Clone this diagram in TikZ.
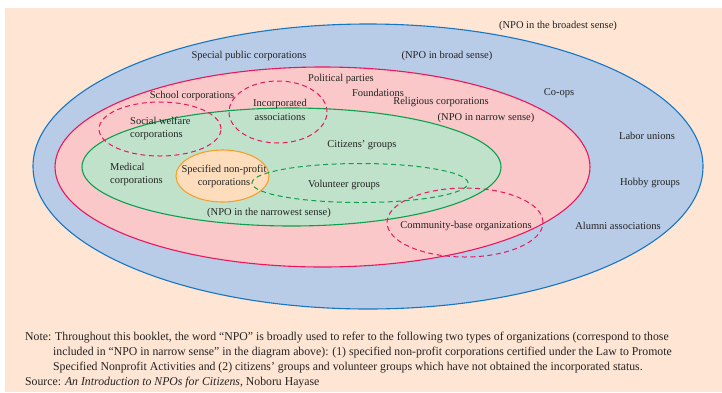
\documentclass[tikz,border=0pt]{standalone}
\usepackage{fontspec}
\setmainfont{Liberation Serif}
\newfontfamily\notefont[FakeStretch=0.98]{Liberation Serif}
\definecolor{peach}{RGB}{254,229,212}
\definecolor{bluefill}{RGB}{184,204,232}
\definecolor{blueline}{RGB}{22,118,196}
\definecolor{pinkfill}{RGB}{250,200,200}
\definecolor{pinkline}{RGB}{232,24,94}
\definecolor{greenfill}{RGB}{192,226,203}
\definecolor{greenline}{RGB}{12,160,78}
\definecolor{orangefill}{RGB}{253,221,188}
\definecolor{orangeline}{RGB}{244,160,46}
\definecolor{txt}{RGB}{35,35,35}
\tikzset{
  ring/.style={line width=1.1pt},
  dashring/.style={line width=1pt, dash pattern=on 5pt off 3.5pt},
  lbl/.style={inner sep=0pt, font=\fontsize{10.5}{13.5}\selectfont, text=txt},
  noteline/.style={inner sep=0pt, anchor=base west, font=\notefont\fontsize{12}{15}\selectfont, text=txt}
}
\begin{document}
\begin{tikzpicture}[x=1pt, y=-1pt]
\useasboundingbox (0,0) rectangle (722,392);
% page background
\fill[peach] (5,8) rectangle (722,392);

% nested sets
\draw[ring, blueline, fill=bluefill] (368,166.5) ellipse [x radius=335pt, y radius=142.5pt];
\draw[ring, pinkline, fill=pinkfill] (322.5,167) ellipse [x radius=267.5pt, y radius=100pt];
\draw[ring, greenline, fill=greenfill] (291.5,167) ellipse [x radius=209.5pt, y radius=59pt];
\draw[ring, orangeline, fill=orangefill] (222.5,176) ellipse [x radius=46.5pt, y radius=26pt];

% overlapping groups
\draw[dashring, pinkline] (160,129) ellipse [x radius=61pt, y radius=27pt];
\draw[dashring, pinkline] (278,112) ellipse [x radius=49pt, y radius=31pt];
\draw[dashring, greenline] (360,183) ellipse [x radius=108pt, y radius=19.5pt];
\draw[dashring, pinkline] (465,222.5) ellipse [x radius=78pt, y radius=34.5pt];

% labels
\node[lbl] (broadest) at (558,26) {(NPO in the broadest sense)};
\node[lbl] (spc) at (249,56) {Special public corporations};
\node[lbl] (broad) at (447,56) {(NPO in broad sense)};
\node[lbl] (pol) at (341,79) {Political parties};
\node[lbl] (found) at (378,93) {Foundations};
\node[lbl] (school) at (192,96) {School corporations};
\node[lbl] (relig) at (441,102) {Religious corporations};
\node[lbl] (coops) at (559,93) {Co-ops};
\node[lbl, align=center] (incorp) at (280,110) {Incorporated\\associations};
\node[lbl, align=left, anchor=west] (social) at (130,128.5) {Social welfare\\corporations};
\node[lbl] (narrow) at (486,118) {(NPO in narrow sense)};
\node[lbl] (citizens) at (362,145.5) {Citizens' groups};
\node[lbl] (labor) at (647,136) {Labor unions};
\node[lbl, align=left, anchor=west] (medical) at (110,174.5) {Medical\\corporations};
\node[lbl, align=center] (snpc) at (224,176.5) {Specified non-profit\\corporations};
\node[lbl] (volunteer) at (344,185) {Volunteer groups};
\node[lbl] (hobby) at (650,183) {Hobby groups};
\node[lbl] (narrowest) at (269,213) {(NPO in the narrowest sense)};
\node[lbl] (community) at (466,226) {Community-base organizations};
\node[lbl] (alumni) at (618,226) {Alumni associations};

% note and source
\node[noteline] (note1) at (25,340.5) {Note: Throughout this booklet, the word “NPO” is broadly used to refer to the following two types of organizations (correspond to those};
\node[noteline] (note2) at (53,355.5) {included in “NPO in narrow sense” in the diagram above): (1) specified non-profit corporations certified under the Law to Promote};
\node[noteline] (note3) at (53,370.5) {Specified Nonprofit Activities and (2) citizens’ groups and volunteer groups which have not obtained the incorporated status.};
\node[noteline] (source) at (25,385.5) {Source: \textit{An Introduction to NPOs for Citizens}, Noboru Hayase};
\end{tikzpicture}
\end{document}
